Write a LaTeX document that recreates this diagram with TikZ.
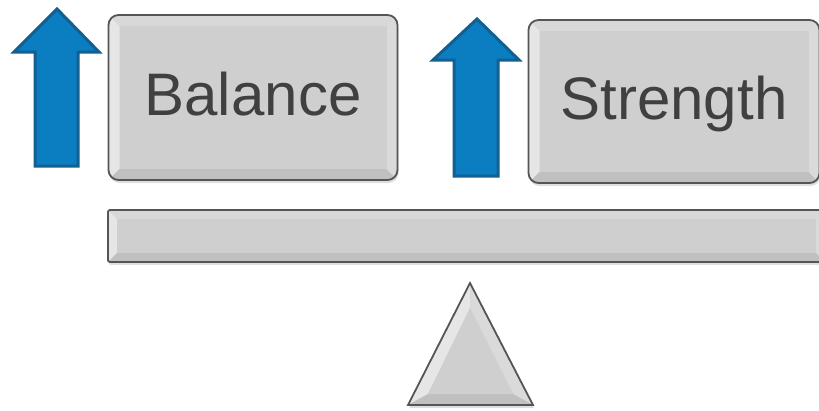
\documentclass[tikz,border=0pt]{standalone}
\usepackage{fontspec}
\setmainfont{Liberation Sans}
\usetikzlibrary{calc,shadows}

\definecolor{face}{HTML}{CFCFCF}
\definecolor{bevtop}{HTML}{D8D8D8}
\definecolor{bevleft}{HTML}{E6E6E6}
\definecolor{bevbot}{HTML}{C0C0C0}
\definecolor{bevright}{HTML}{DADADA}
\definecolor{edge}{HTML}{555555}
\definecolor{ink}{HTML}{404040}
\definecolor{arrowfill}{HTML}{0B7DC1}
\definecolor{arrowedge}{HTML}{135F8F}

% chamfered facets painted inside a rectangular node, inset #1
\newcommand\bevelpaint[1]{%
  \coordinate (bnw) at (path picture bounding box.north west);
  \coordinate (bne) at (path picture bounding box.north east);
  \coordinate (bsw) at (path picture bounding box.south west);
  \coordinate (bse) at (path picture bounding box.south east);
  \coordinate (inw) at ($(bnw)+(#1,#1)$);
  \coordinate (ine) at ($(bne)+(-#1,#1)$);
  \coordinate (isw) at ($(bsw)+(#1,-#1)$);
  \coordinate (ise) at ($(bse)+(-#1,-#1)$);
  \fill[bevtop,sharp corners] (bnw) -- (bne) -- (ine) -- (inw) -- cycle;
  \fill[bevleft,sharp corners] (bnw) -- (inw) -- (isw) -- (bsw) -- cycle;
  \fill[bevbot,sharp corners] (bsw) -- (isw) -- (ise) -- (bse) -- cycle;
  \fill[bevright,sharp corners] (bne) -- (bse) -- (ise) -- (ine) -- cycle;
  \fill[face,sharp corners] (inw) rectangle (ise);
}

\tikzset{
  bevelbox/.style={draw=edge, line width=1.8pt, fill=face, rounded corners=10pt,
    text=ink, font=\fontsize{60}{64}\selectfont, text height=43pt, text depth=8pt,
    inner sep=0pt,
    drop shadow={shadow xshift=1pt, shadow yshift=-3pt, opacity=0.25},
    path picture={\bevelpaint{#1}}},
  bevelbox/.default=11,
  upbar/.style={fill=arrowfill, draw=arrowedge, line width=3pt, line join=miter},
  fulcrum/.style={draw=edge, line width=1.8pt, line join=miter},
}

\begin{document}
\begin{tikzpicture}[x=1pt,y=-1pt]
\useasboundingbox (0,0) rectangle (819,410);

% rising arrows
\draw[upbar] (35,166) -- (35,52) -- (14,52) -- (57,9) -- (99,52) -- (78,52) -- (78,166) -- cycle;
\draw[upbar] (454,176) -- (454,60) -- (433,60) -- (477,19) -- (519,60) -- (498,60) -- (498,176) -- cycle;

% labelled keys
\node[bevelbox, minimum width=289pt, minimum height=165pt] (balance) at (253,97.5) {Balance};
\node[bevelbox, minimum width=291pt, minimum height=163pt] (strength) at (674,101.5) {Strength};

% beam of the scale
\node[bevelbox=9, rounded corners=2pt, minimum width=717pt, minimum height=52pt] (beam) at (466.5,236) {};

% fulcrum
\coordinate (apex) at (470,283);
\coordinate (fl) at (408,405);
\coordinate (fr) at (533,405);
\coordinate (ia) at (470,308);
\coordinate (il) at (428,394);
\coordinate (ir) at (513,394);
\fill[face, drop shadow={shadow xshift=1pt, shadow yshift=-3pt, opacity=0.25}] (apex) -- (fl) -- (fr) -- cycle;
\fill[bevleft] (apex) -- (fl) -- (il) -- (ia) -- cycle;
\fill[bevright] (apex) -- (fr) -- (ir) -- (ia) -- cycle;
\fill[bevbot] (fl) -- (fr) -- (ir) -- (il) -- cycle;
\fill[face] (ia) -- (il) -- (ir) -- cycle;
\draw[fulcrum] (apex) -- (fl) -- (fr) -- cycle;
\end{tikzpicture}
\end{document}
